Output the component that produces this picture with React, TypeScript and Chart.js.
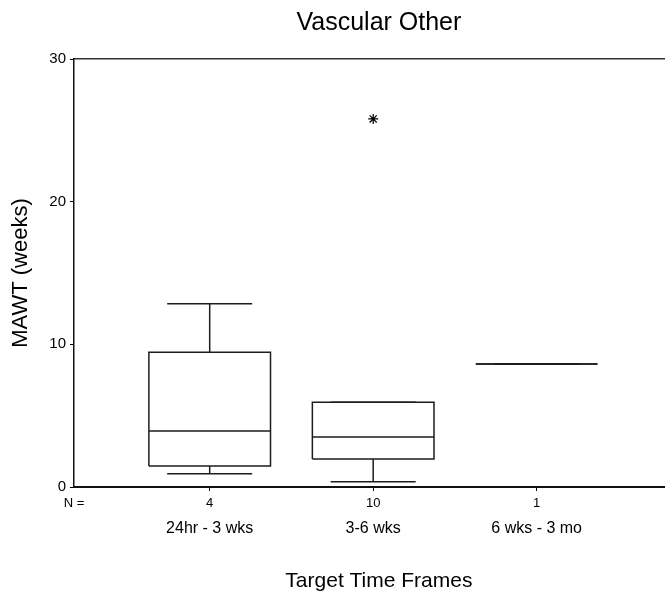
import React, { useEffect, useRef } from "react";
import { Chart, registerables } from "chart.js";

Chart.register(...registerables);

// ---- data ----
const categories = ["24hr - 3 wks", "3-6 wks", "6 wks - 3 mo"];
const nCounts = [4, 10, 1];
const whiskerLow = [0.93, 0.37, 8.62];
const q1 = [1.47, 1.96, 8.62];
const medians = [3.92, 3.5, 8.62];
const q3 = [9.44, 5.94, 8.62];
const whiskerHigh = [12.85, 5.94, 8.62];
const outlierCategory = [2];
const outlierValue = [25.8];
const yTicks = [0, 10, 20, 30];

// ---- layout / style constants ----
const CANVAS_W = 690;
const CANVAS_H = 599;
const X_MIN = 0.17;
const X_MAX = 3.9;
const BOX_HALF = 0.372;
const CAP_HALF = 0.26;
const FONT = "'Liberation Sans', Arial, Helvetica, sans-serif";
const LINE_COLOR = "#1c1c1c";

const positions = categories.map((_, i) => i + 1);

function buildBoxes() {
  const pts: any[] = [];
  positions.forEach((c, i) => {
    pts.push({ x: c - BOX_HALF, y: q1[i] });
    pts.push({ x: c + BOX_HALF, y: q1[i] });
    pts.push({ x: c + BOX_HALF, y: q3[i] });
    pts.push({ x: c - BOX_HALF, y: q3[i] });
    pts.push({ x: c - BOX_HALF, y: q1[i] });
    pts.push({ x: c, y: null });
  });
  return pts;
}
function buildMedians() {
  const pts: any[] = [];
  positions.forEach((c, i) => {
    pts.push({ x: c - BOX_HALF, y: medians[i] });
    pts.push({ x: c + BOX_HALF, y: medians[i] });
    pts.push({ x: c, y: null });
  });
  return pts;
}
function buildWhiskers() {
  const pts: any[] = [];
  positions.forEach((c, i) => {
    pts.push({ x: c, y: q3[i] });
    pts.push({ x: c, y: whiskerHigh[i] });
    pts.push({ x: c, y: null });
    pts.push({ x: c, y: q1[i] });
    pts.push({ x: c, y: whiskerLow[i] });
    pts.push({ x: c, y: null });
  });
  return pts;
}
function buildCaps() {
  const pts: any[] = [];
  positions.forEach((c, i) => {
    pts.push({ x: c - CAP_HALF, y: whiskerHigh[i] });
    pts.push({ x: c + CAP_HALF, y: whiskerHigh[i] });
    pts.push({ x: c, y: null });
    pts.push({ x: c - CAP_HALF, y: whiskerLow[i] });
    pts.push({ x: c + CAP_HALF, y: whiskerLow[i] });
    pts.push({ x: c, y: null });
  });
  return pts;
}

const lineStyle = {
  borderColor: LINE_COLOR,
  borderWidth: 1.5,
  pointRadius: 0,
  pointHoverRadius: 0,
  fill: false,
  tension: 0,
  spanGaps: false,
  borderJoinStyle: "miter" as const,
};

export default function App() {
  const ref = useRef<HTMLCanvasElement | null>(null);

  useEffect(() => {
    if (!ref.current) return;
    Chart.defaults.font.family = FONT;
    const setTicks = (vals: number[]) => (s: any) => {
      s.ticks = vals.map((v) => ({ value: v }));
    };
    const chart = new Chart(ref.current, {
      type: "line",
      data: {
        datasets: [
          { ...lineStyle, data: buildBoxes() },
          { ...lineStyle, data: buildMedians() },
          { ...lineStyle, data: buildWhiskers() },
          { ...lineStyle, data: buildCaps() },
          {
            data: outlierCategory.map((c, i) => ({ x: c, y: outlierValue[i] })),
            showLine: false,
            pointStyle: "star",
            pointRadius: 5,
            pointBorderColor: "#000",
            pointBackgroundColor: "#000",
            pointBorderWidth: 1.2,
          } as any,
        ],
      },
      options: {
        responsive: false,
        animation: false,
        events: [],
        layout: { padding: 0 },
        plugins: {
          legend: { display: false },
          tooltip: { enabled: false },
          title: {
            display: true,
            fullSize: false,
            text: "Vascular Other",
            color: "#000",
            font: { family: FONT, size: 25, weight: "normal" },
            padding: { top: 8, bottom: 21 },
          },
        },
        scales: {
          x: {
            type: "linear",
            position: "bottom",
            weight: 0,
            min: X_MIN,
            max: X_MAX,
            afterBuildTicks: setTicks([X_MIN, ...positions]),
            afterFit: (s: any) => {
              s.height = 24;
            },
            grid: {
              drawOnChartArea: false,
              drawTicks: true,
              tickLength: 4,
              lineWidth: 1,
              color: (ctx: any) =>
                ctx.tick && ctx.tick.value === X_MIN ? "rgba(0,0,0,0)" : "#000",
            },
            border: { display: true, color: "#111", width: 2 },
            ticks: {
              autoSkip: false,
              maxRotation: 0,
              padding: 5,
              color: "#000",
              font: { family: FONT, size: 13 },
              callback: (v: any) =>
                v === X_MIN ? "N =" : String(nCounts[Math.round(v) - 1]),
            },
          },
          x2: {
            type: "linear",
            position: "bottom",
            weight: 1,
            min: X_MIN,
            max: X_MAX,
            afterBuildTicks: setTicks(positions),
            afterFit: (s: any) => {
              s.height = 88;
            },
            grid: { display: false, drawTicks: false },
            border: { display: false },
            ticks: {
              autoSkip: false,
              maxRotation: 0,
              padding: 8,
              color: "#000",
              font: { family: FONT, size: 16 },
              callback: (v: any) => categories[Math.round(v) - 1],
            },
            title: {
              display: true,
              text: "Target Time Frames",
              color: "#000",
              font: { family: FONT, size: 21 },
              padding: { top: 0, bottom: 5 },
            },
          },
          xTop: {
            type: "linear",
            position: "top",
            min: X_MIN,
            max: X_MAX,
            afterFit: (s: any) => {
              s.height = 0;
            },
            grid: { display: false, drawTicks: false },
            border: { display: true, color: "#333", width: 1.5 },
            ticks: { display: false },
          },
          y: {
            type: "linear",
            min: 0,
            max: 30,
            afterBuildTicks: setTicks(yTicks),
            afterFit: (s: any) => {
              s.width = 74;
            },
            grid: {
              drawOnChartArea: false,
              drawTicks: true,
              tickLength: 4,
              color: "#000",
            },
            border: { display: true, color: "#111", width: 1.5 },
            ticks: {
              padding: 4,
              color: "#000",
              font: { family: FONT, size: 15 },
            },
            title: {
              display: true,
              text: "MAWT (weeks)",
              color: "#000",
              font: { family: FONT, size: 22 },
              padding: { top: 8, bottom: 0 },
            },
          },
        },
      } as any,
    });
    return () => chart.destroy();
  }, []);

  return (
    <div
      style={{
        position: "absolute",
        left: 0,
        top: 0,
        width: 665,
        height: 599,
        overflow: "hidden",
        background: "#fff",
      }}
    >
      <canvas ref={ref} width={CANVAS_W} height={CANVAS_H} style={{ display: "block" }} />
    </div>
  );
}
